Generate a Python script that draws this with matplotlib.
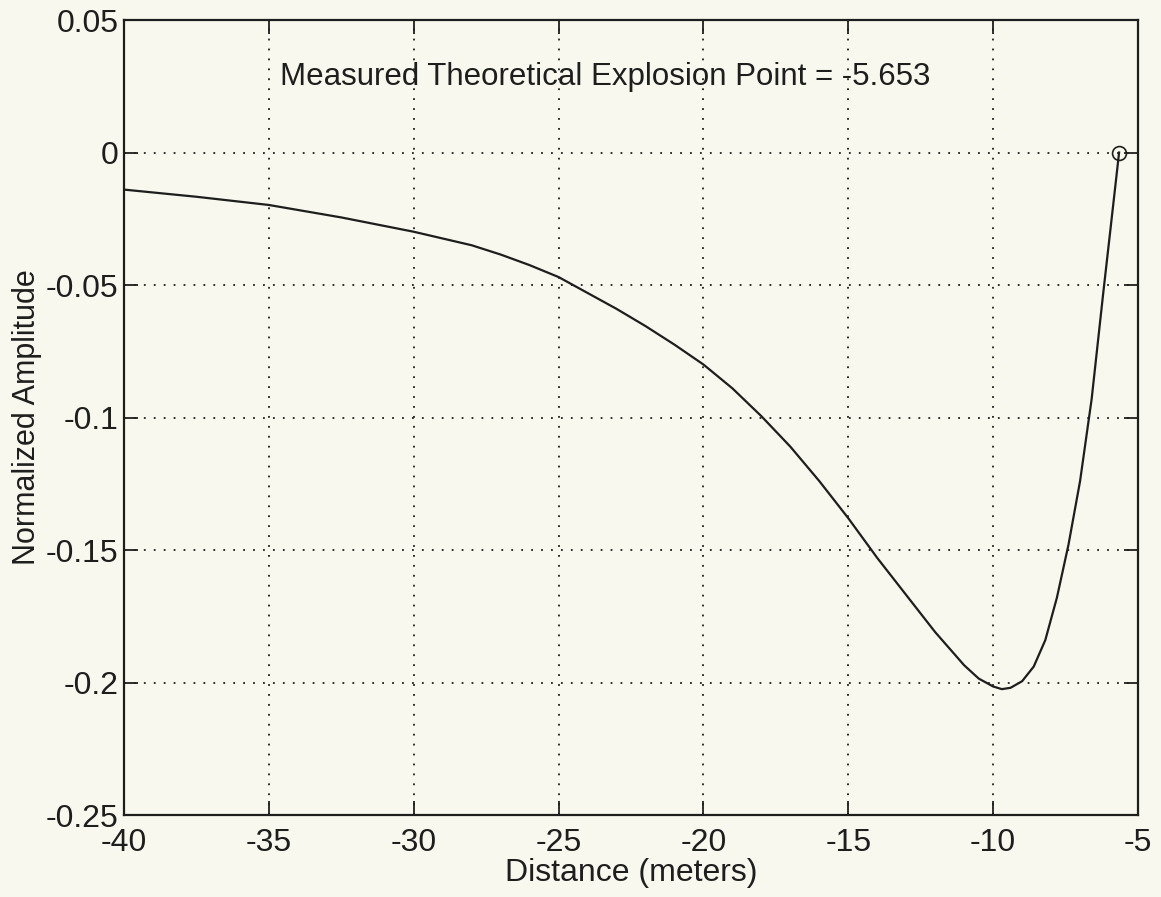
import matplotlib
matplotlib.use('Agg')
import matplotlib.pyplot as plt
from matplotlib.ticker import FuncFormatter

# values
distance = [-40.0, -37.5, -35.0, -32.5, -30.0, -28.0, -27.0, -26.0, -25.0, -24.0,
            -23.0, -22.0, -21.0, -20.0, -19.0, -18.0, -17.0, -16.0, -15.0, -14.0,
            -13.0, -12.0, -11.0, -10.5, -10.0, -9.7, -9.4, -9.0, -8.6, -8.2,
            -7.8, -7.4, -7.0, -6.6, -6.2, -5.9, -5.653]
amplitude = [-0.0140, -0.0167, -0.0198, -0.0245, -0.0299, -0.0350, -0.0385, -0.0425, -0.0470, -0.0530,
             -0.0590, -0.0655, -0.0725, -0.0800, -0.0890, -0.0995, -0.1110, -0.1240, -0.1380, -0.1530,
             -0.1670, -0.1810, -0.1935, -0.1985, -0.2015, -0.2025, -0.2020, -0.1995, -0.1940, -0.1840,
             -0.1680, -0.1480, -0.1240, -0.0930, -0.0530, -0.0240, 0.0]
explosion_x = -5.653
explosion_y = 0.0
x_ticks = [-40, -35, -30, -25, -20, -15, -10, -5]
y_ticks = [0.05, 0, -0.05, -0.1, -0.15, -0.2, -0.25]

bg = '#f8f8ee'
ink = '#1e1e1e'

plt.rcParams['font.family'] = ['Liberation Sans', 'DejaVu Sans']
plt.rcParams['axes.unicode_minus'] = False

fig = plt.figure(figsize=(11.61, 8.97), dpi=100, facecolor=bg)
ax = fig.add_axes([0.1068, 0.0914, 0.8734, 0.8863], facecolor=bg)

ax.plot(distance, amplitude, color=ink, lw=1.6)
ax.plot([explosion_x], [explosion_y], 'o', mfc='none', mec=ink, ms=10, mew=1.2)
ax.text(-34.6, 0.0285, 'Measured Theoretical Explosion Point = {}'.format(explosion_x),
        fontsize=22.5, color=ink, va='center', ha='left')

ax.set_xlim(-40, -5)
ax.set_ylim(-0.25, 0.05)
ax.set_xticks(x_ticks)
ax.set_yticks(y_ticks)
fmt = FuncFormatter(lambda v, p: '%g' % v)
ax.xaxis.set_major_formatter(fmt)
ax.yaxis.set_major_formatter(fmt)
ax.tick_params(direction='in', length=10, width=1.3, labelsize=23, colors=ink,
               top=True, right=True)
ax.tick_params(axis='x', pad=9)
ax.tick_params(axis='y', pad=4)
ax.grid(True, color=ink, linestyle=(0, (1, 4.5)), linewidth=1.3)
for s in ax.spines.values():
    s.set_linewidth(1.6)
    s.set_color(ink)

ax.set_xlabel('Distance (meters)', fontsize=23, color=ink, labelpad=0)
ax.set_ylabel('Normalized Amplitude', fontsize=22, color=ink, labelpad=3)

fig.savefig('out.png', dpi=100, facecolor=bg)
